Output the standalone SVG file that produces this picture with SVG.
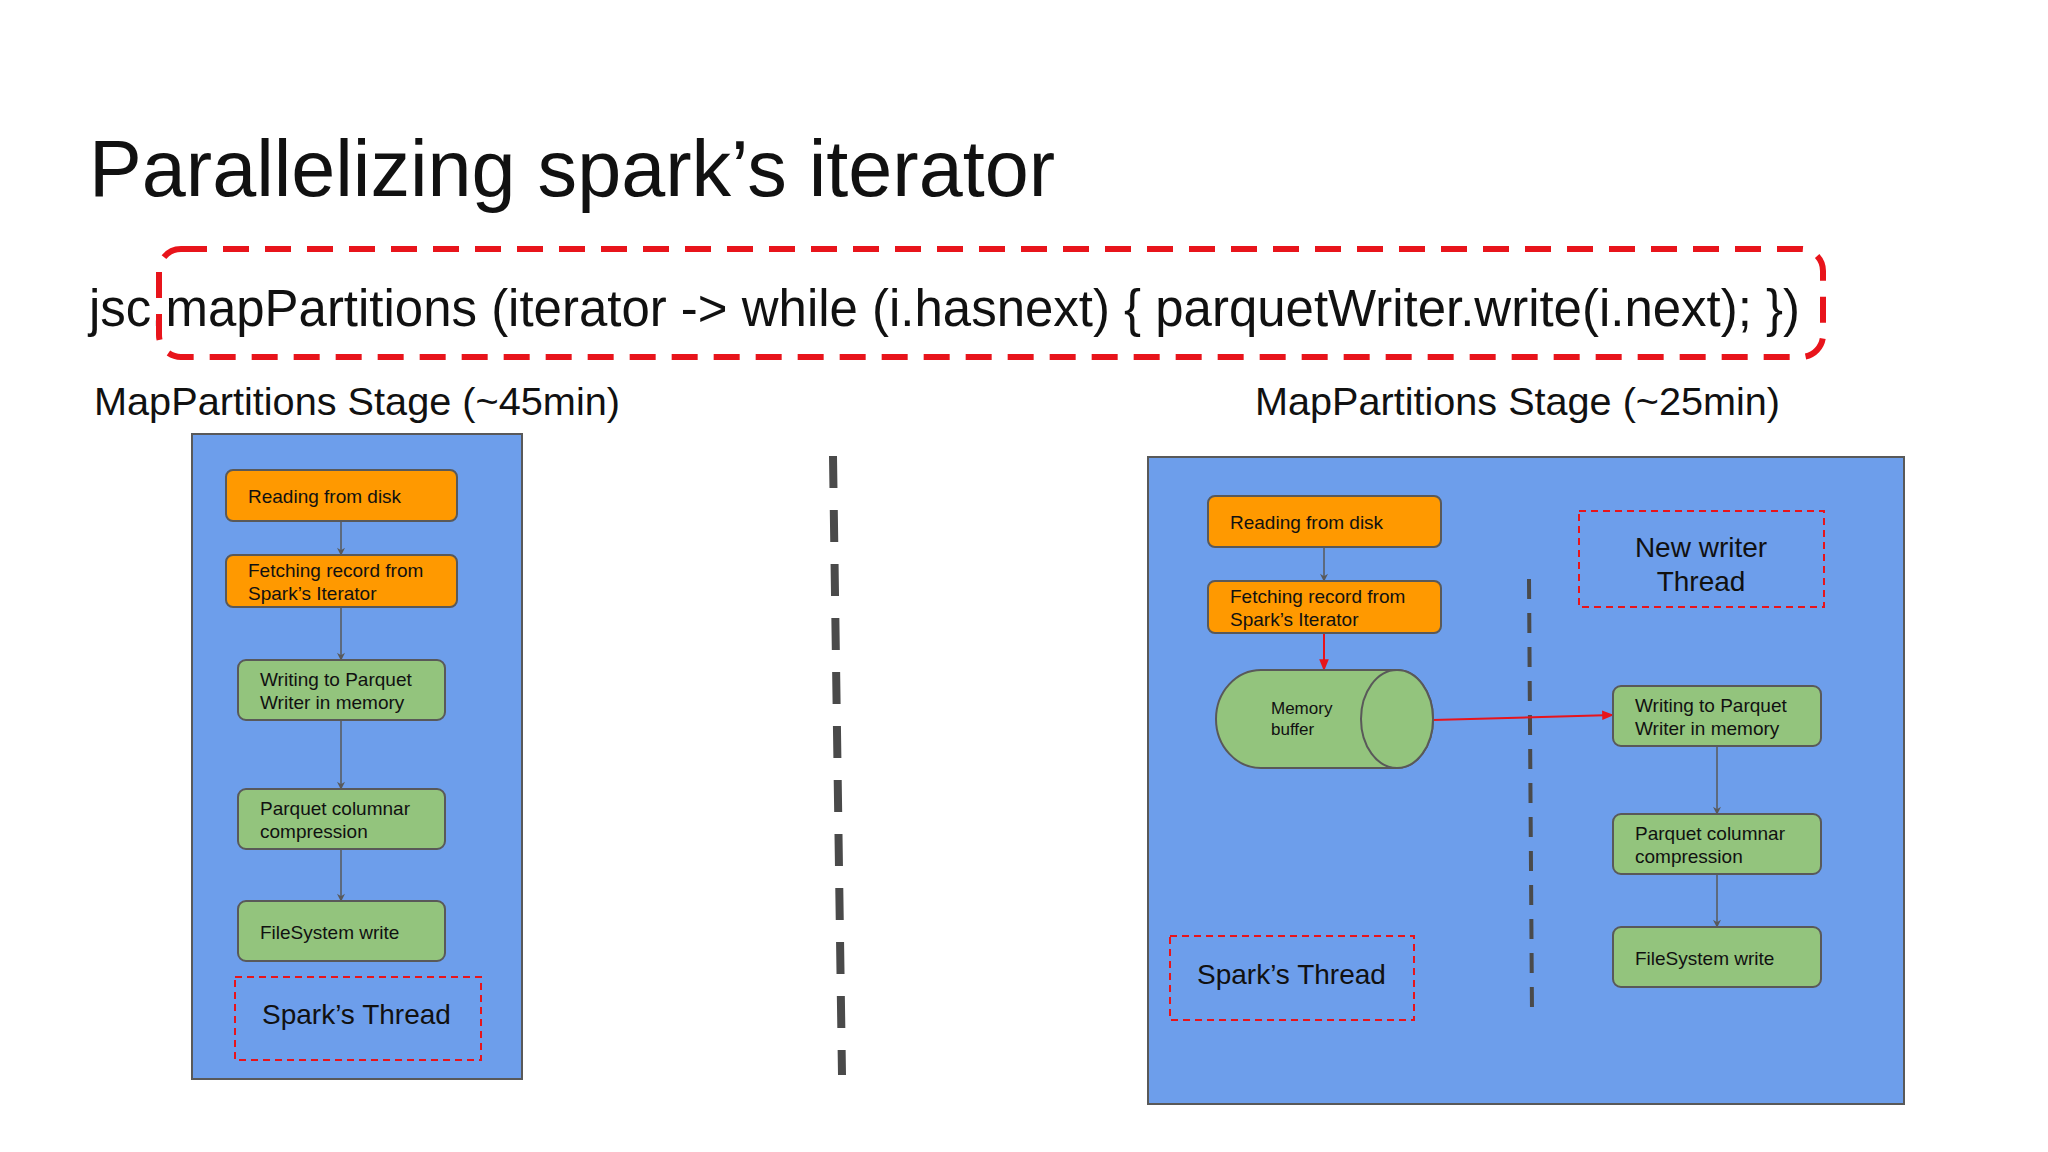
<svg xmlns="http://www.w3.org/2000/svg" width="2048" height="1152" viewBox="0 0 2048 1152">
<defs>
<marker id="ag" viewBox="0 0 10 10" refX="9" refY="5" markerWidth="9" markerHeight="8" orient="auto" markerUnits="userSpaceOnUse"><path d="M0,0 L10,5 L0,10 L3,5 z" fill="#595959"/></marker>
<marker id="ar" viewBox="0 0 10 10" refX="9" refY="5" markerWidth="12" markerHeight="12" orient="auto" markerUnits="userSpaceOnUse"><path d="M0,1 L10,5 L0,9 z" fill="#e8141b"/></marker>
</defs>
<style>
text{font-family:"Liberation Sans",Arial,sans-serif;fill:#111}
.panel{fill:#6d9eeb;stroke:#595959;stroke-width:2}
.or{fill:#ff9900;stroke:#595959;stroke-width:2}
.gr{fill:#93c47d;stroke:#595959;stroke-width:2}
.nt{font-size:19px}
.th{fill:none;stroke:#e8141b;stroke-width:2;stroke-dasharray:7,5}
.tt{font-size:28px}
.c{stroke:#595959;stroke-width:1.5;fill:none;marker-end:url(#ag)}
.r{stroke:#e8141b;stroke-width:2;fill:none;marker-end:url(#ar)}
</style>
<rect width="2048" height="1152" fill="#fff"/>
<text x="89" y="196" font-size="80" textLength="966" lengthAdjust="spacingAndGlyphs">Parallelizing spark’s iterator</text>
<text x="89" y="326" font-size="51" textLength="1711" lengthAdjust="spacingAndGlyphs">jsc.mapPartitions (iterator -&gt; while (i.hasnext) { parquetWriter.write(i.next); })</text>
<rect x="159" y="249" width="1664" height="108" rx="22" fill="none" stroke="#e8141b" stroke-width="6" stroke-dasharray="26,16"/>
<text x="94" y="415" font-size="39" textLength="526" lengthAdjust="spacingAndGlyphs">MapPartitions Stage (~45min)</text>
<text x="1255" y="415" font-size="39" textLength="525" lengthAdjust="spacingAndGlyphs">MapPartitions Stage (~25min)</text>
<line x1="833" y1="456" x2="842" y2="1075" stroke="#4a4a4a" stroke-width="8" stroke-dasharray="32,22"/>
<g id="left-panel"><rect class="panel" x="192" y="434" width="330" height="645"/></g>
<g id="right-panel"><rect class="panel" x="1148" y="457" width="756" height="647"/>
<line x1="1529" y1="579" x2="1532" y2="1013" stroke="#4a4a4a" stroke-width="4" stroke-dasharray="20,14"/></g>
<g id="connectors">
<line class="c" x1="341" y1="521" x2="341" y2="555"/>
<line class="c" x1="341" y1="607" x2="341" y2="660"/>
<line class="c" x1="341" y1="720" x2="341" y2="789"/>
<line class="c" x1="341" y1="849" x2="341" y2="901"/>
<line class="c" x1="1324" y1="547" x2="1324" y2="581"/>
<line class="r" x1="1324" y1="633" x2="1324" y2="670"/>
<line class="r" x1="1433" y1="720" x2="1613" y2="715"/>
<line class="c" x1="1717" y1="746" x2="1717" y2="814"/>
<line class="c" x1="1717" y1="874" x2="1717" y2="927"/>
</g>
<g id="l-read"><rect class="or" x="226" y="470" width="231" height="51" rx="7"/><text class="nt" x="248" y="503">Reading from disk</text></g>
<g id="l-fetch"><rect class="or" x="226" y="555" width="231" height="52" rx="7"/><text class="nt" x="248" y="577">Fetching record from</text><text class="nt" x="248" y="600">Spark’s Iterator</text></g>
<g id="l-write"><rect class="gr" x="238" y="660" width="207" height="60" rx="8"/><text class="nt" x="260" y="686">Writing to Parquet</text><text class="nt" x="260" y="709">Writer in memory</text></g>
<g id="l-parquet"><rect class="gr" x="238" y="789" width="207" height="60" rx="8"/><text class="nt" x="260" y="815">Parquet columnar</text><text class="nt" x="260" y="838">compression</text></g>
<g id="l-fs"><rect class="gr" x="238" y="901" width="207" height="60" rx="8"/><text class="nt" x="260" y="939">FileSystem write</text></g>
<g id="l-thread"><rect class="th" x="235" y="977" width="246" height="83"/><text class="tt" x="262" y="1024">Spark’s Thread</text></g>
<g id="r-read"><rect class="or" x="1208" y="496" width="233" height="51" rx="7"/><text class="nt" x="1230" y="529">Reading from disk</text></g>
<g id="r-fetch"><rect class="or" x="1208" y="581" width="233" height="52" rx="7"/><text class="nt" x="1230" y="603">Fetching record from</text><text class="nt" x="1230" y="626">Spark’s Iterator</text></g>
<g id="r-buffer"><path class="gr" d="M1261,670 H1397 A36,49 0 0 1 1397,768 H1261 A45,49 0 0 1 1261,670 z"/><ellipse class="gr" cx="1397" cy="719" rx="36" ry="49"/><text x="1271" y="714" font-size="17">Memory</text><text x="1271" y="735" font-size="17">buffer</text></g>
<g id="r-newthread"><rect class="th" x="1579" y="511" width="245" height="96"/><text class="tt" x="1701" y="557" text-anchor="middle">New writer</text><text class="tt" x="1701" y="591" text-anchor="middle">Thread</text></g>
<g id="r-write"><rect class="gr" x="1613" y="686" width="208" height="60" rx="8"/><text class="nt" x="1635" y="712">Writing to Parquet</text><text class="nt" x="1635" y="735">Writer in memory</text></g>
<g id="r-parquet"><rect class="gr" x="1613" y="814" width="208" height="60" rx="8"/><text class="nt" x="1635" y="840">Parquet columnar</text><text class="nt" x="1635" y="863">compression</text></g>
<g id="r-fs"><rect class="gr" x="1613" y="927" width="208" height="60" rx="8"/><text class="nt" x="1635" y="965">FileSystem write</text></g>
<g id="r-thread"><rect class="th" x="1170" y="936" width="244" height="84"/><text class="tt" x="1197" y="984">Spark’s Thread</text></g>
</svg>
